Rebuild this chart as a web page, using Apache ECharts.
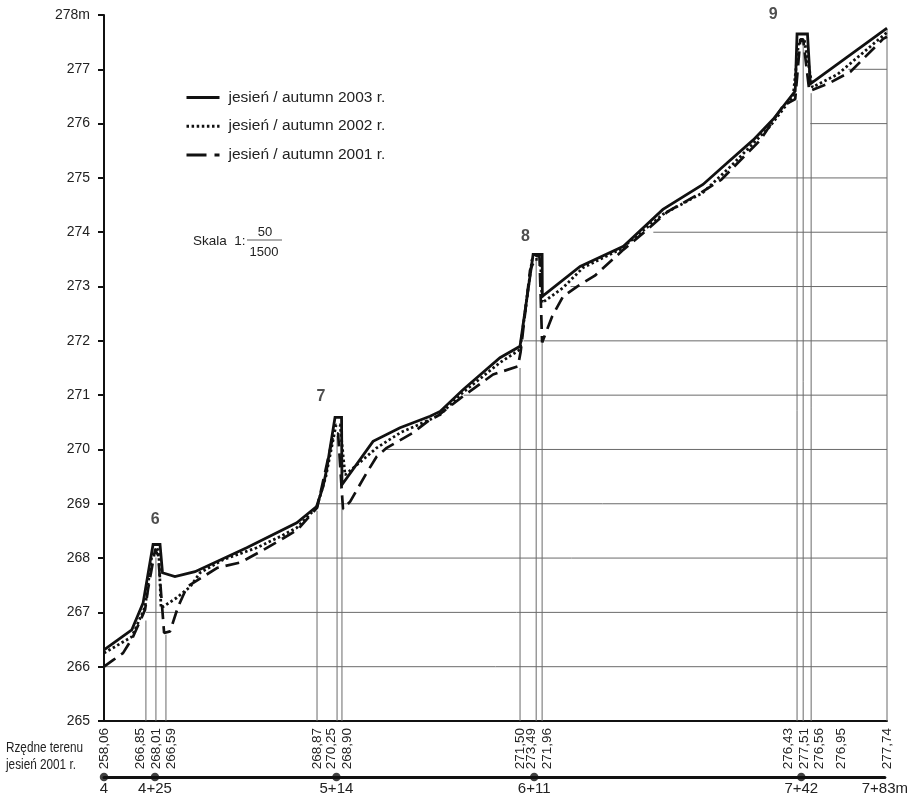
<!DOCTYPE html>
<html><head><meta charset="utf-8">
<script src="https://cdn.jsdelivr.net/npm/echarts@6/dist/echarts.min.js"></script>
<style>html,body{margin:0;padding:0;background:#fff}#c{width:911px;height:797px}</style>
</head><body><div id="c"></div>
<script>
// ---- profile data: [distance along the stream (m), elevation (m)] ----
const profile2003 = [
  [400,266.31],[413.6,266.68],[419.1,267.17],[424.0,268.25],[427.4,268.25],[428.6,267.73],
  [434.7,267.66],[444.5,267.75],[469.8,268.19],[494.3,268.65],[504.0,268.95],[507.1,269.31],
  [508.9,269.63],[513.0,270.59],[516.2,270.59],[516.4,269.35],[531.6,270.15],[544.8,270.40],
  [559.5,270.61],[564.4,270.70],[575.6,271.10],[593.7,271.69],[603.5,271.90],[609.9,273.59],
  [614.3,273.59],[614.4,272.82],[632.9,273.37],[654.1,273.74],[673.4,274.42],[693.0,274.88],
  [704.9,275.28],[717.6,275.70],[727.3,276.08],[738.1,276.60],[739.0,277.65],[744.1,277.65],
  [745.5,276.73],[783.0,277.76]
];
const profile2002 = [
  [400,266.25],[413.6,266.55],[420.1,267.10],[423.3,268.02],[425.8,268.20],[426.8,268.10],
  [427.9,267.08],[435.6,267.27],[442.1,267.47],[447.0,267.73],[458.2,267.97],[474.7,268.19],
  [486.4,268.40],[494.3,268.56],[504.0,268.93],[508.5,269.50],[513.5,270.45],[515.5,270.45],
  [517.9,269.53],[533.4,270.03],[545.0,270.31],[559.5,270.55],[564.4,270.64],[575.6,271.05],
  [593.7,271.60],[603.5,271.84],[609.4,273.50],[613.5,273.50],[614.3,272.70],[624.6,272.98],
  [634.4,273.35],[652.4,273.68],[673.4,274.33],[693.0,274.73],[706.2,275.20],[725.8,275.95],
  [737.1,276.51],[739.8,277.50],[742.5,277.55],[746.5,276.67],[758.9,276.91],[783.0,277.68]
];
const profile2001 = [
  [400,266.00],[404.4,266.12],[409.3,266.25],[414.2,266.55],[420.1,267.05],[421.5,267.42],
  [425.0,268.15],[426.5,268.05],[429.4,266.62],[432.3,266.65],[436.2,267.10],[440.6,267.47],
  [455.4,267.82],[466.8,267.92],[478.0,268.15],[487.9,268.37],[494.6,268.52],[504.3,268.93],
  [512.0,270.24],[514.5,270.30],[516.9,268.90],[520.4,269.04],[528.5,269.57],[533.4,269.87],
  [538.3,270.03],[551.2,270.31],[559.5,270.55],[562.9,270.61],[575.6,270.98],[590.3,271.38],
  [602.5,271.53],[603.8,271.80],[608.4,273.30],[611.5,273.56],[613.0,273.56],[614.3,271.97],
  [619.2,272.45],[624.6,272.82],[631.4,273.00],[640.1,273.20],[654.1,273.68],[665.8,274.05],
  [675.7,274.38],[690.3,274.69],[702.0,274.97],[721.1,275.70],[732.2,276.33],[738.1,276.45],
  [740.6,277.55],[742.0,277.55],[745.0,276.60],[753.9,276.73],[765.0,276.95],[781.1,277.56],
  [783.0,277.60]
];
const seriesNames = ['jesień / autumn 2003 r.', 'jesień / autumn 2002 r.', 'jesień / autumn 2001 r.'];

// ---- ground elevations 2001 ("Rzędne terenu") ----
const terrainStations = [400, 420.5, 425.4, 430.3, 504.2, 514.0, 516.4, 603.5, 611.4, 614.3, 739.0, 742.0, 745.9, 760.5, 783.0];
const terrainLabels = ['258,06','266,85','268,01','266,59','268,87','270,25','268,90','271,50','273,49','271,96','276,43','277,51','276,56','276,95','277,74'];
const terrainHasLine = [false, true, true, true, true, true, true, true, true, true, true, true, true, false, true];

// ---- horizontal reference lines: level and distance where they begin ----
const gridLevels = [266, 267, 268, 269, 270, 271, 272, 273, 274, 275, 276, 277];
const gridLevelStart = [400, 420.5, 474.2, 504.6, 537.7, 575.9, 605.2, 628.2, 668.7, 702.5, 745.5, 764.1];

// ---- chainage ----
const chainageValues = [400, 425, 514, 611, 742, 783];
const chainageLabels = ['4', '4+25', '5+14', '6+11', '7+42', '7+83m'];
const chainageDots = [400, 425, 514, 611, 742];

// ---- weirs ----
const weirNames = ['6', '7', '8', '9'];
const weirStations = [425, 514, 611, 742];
const weirCrest = [268.25, 270.59, 273.59, 277.65];

const X_MIN = 400, X_MAX = 783, Y_MIN = 265, Y_MAX = 278;
const FONT = '"Liberation Sans", Arial, sans-serif';
const GRID_COLOR = '#6a6a6a';

const chart = echarts.init(document.getElementById('c'), null, {renderer: 'canvas'});

const weirOffsets = [[0, -25], [-16, -21], [-10, -18], [-30, -19]];
const narrowText = (text, x, y) => ({type: 'text', x: x, y: y, scaleX: 0.84,
  style: {text: text, font: '14px ' + FONT, fill: '#222', textVerticalAlign: 'middle', verticalAlign: 'middle'}});

const option = {
  animation: false,
  backgroundColor: '#fff',
  grid: [
    {left: 104, right: 24, top: 15, bottom: 76},
    {left: 104, right: 24, top: 767, height: 10}
  ],
  xAxis: [
    {gridIndex: 0, type: 'value', min: X_MIN, max: X_MAX,
     axisLine: {onZero: false, lineStyle: {color: '#111', width: 2}},
     axisTick: {show: false}, axisLabel: {show: false}, splitLine: {show: false}},
    {gridIndex: 1, type: 'value', min: X_MIN, max: X_MAX, position: 'bottom',
     axisLine: {onZero: false, lineStyle: {color: '#111', width: 3}},
     axisTick: {show: false}, splitLine: {show: false},
     axisLabel: {customValues: chainageValues, showMinLabel: true, showMaxLabel: true,
       formatter: v => chainageLabels[chainageValues.indexOf(v)] || '',
       fontSize: 15, fontFamily: FONT, color: '#222', margin: 4}}
  ],
  yAxis: [
    {gridIndex: 0, type: 'value', min: Y_MIN, max: Y_MAX, interval: 1,
     axisLine: {show: true, onZero: false, lineStyle: {color: '#111', width: 2}},
     axisTick: {show: true, length: 6, lineStyle: {color: '#111', width: 2}},
     splitLine: {show: false},
     axisLabel: {fontSize: 14, fontFamily: FONT, color: '#222', margin: 14,
       formatter: v => v === Y_MAX ? v + 'm' : String(v)}},
    {gridIndex: 1, type: 'value', min: 0, max: 1, show: false}
  ],
  legend: {
    orient: 'vertical', left: 180, top: 84.5, itemWidth: 33, itemHeight: 16, itemGap: 12.7,
    itemStyle: {opacity: 0},
    lineStyle: {width: 3},
    textStyle: {fontSize: 15.5, fontFamily: FONT, color: '#222', padding: [0, 0, 0, 4]},
    data: [
      {name: seriesNames[0]},
      {name: seriesNames[1]},
      {name: seriesNames[2], lineStyle: {type: [20, 8], width: 3}}
    ]
  },
  graphic: [
    narrowText('Rzędne terenu', 6, 748),
    narrowText('jesień 2001 r.', 6, 765),
    {type: 'text', x: 193, y: 241, style: {text: 'Skala  1:', font: '13.5px ' + FONT, fill: '#222', textVerticalAlign: 'middle', verticalAlign: 'middle'}},
    {type: 'text', x: 265, y: 232, style: {text: '50', font: '13px ' + FONT, fill: '#222', textAlign: 'center', align: 'center', textVerticalAlign: 'middle', verticalAlign: 'middle'}},
    {type: 'line', shape: {x1: 247, y1: 240, x2: 282, y2: 240}, style: {stroke: '#333', lineWidth: 0.8}},
    {type: 'text', x: 264, y: 252, style: {text: '1500', font: '13px ' + FONT, fill: '#222', textAlign: 'center', align: 'center', textVerticalAlign: 'middle', verticalAlign: 'middle'}}
  ],
  series: [
    // horizontal reference lines
    {type: 'custom', xAxisIndex: 0, yAxisIndex: 0, z: 1, silent: true,
     data: gridLevels.map((l, i) => [gridLevelStart[i], l]),
     renderItem: (params, api) => {
       const a = api.coord([api.value(0), api.value(1)]);
       const b = api.coord([X_MAX, api.value(1)]);
       return {type: 'line', shape: {x1: a[0], y1: a[1], x2: b[0], y2: b[1]},
               style: {stroke: GRID_COLOR, lineWidth: 1}};
     }},
    // vertical station lines
    {type: 'custom', xAxisIndex: 0, yAxisIndex: 0, z: 1, silent: true,
     data: terrainStations.map((d, i) => [d, parseFloat(terrainLabels[i].replace(',', '.')), terrainHasLine[i] ? 1 : 0]),
     renderItem: (params, api) => {
       if (!api.value(2)) return null;
       const a = api.coord([api.value(0), Y_MIN]);
       const b = api.coord([api.value(0), api.value(1)]);
       return {type: 'line', shape: {x1: a[0], y1: a[1], x2: b[0], y2: b[1]},
               style: {stroke: GRID_COLOR, lineWidth: 1}};
     }},
    // rotated ground-elevation labels below the axis, spread apart where crowded
    {type: 'custom', xAxisIndex: 0, yAxisIndex: 0, z: 5, silent: true, clip: false,
     data: terrainStations.map(d => [d, Y_MIN]),
     renderItem: (params, api) => {
       const px = terrainStations.map(d => api.coord([d, Y_MIN])[0]);
       const gap = 15.6;
       const out = px.slice();
       let i = 0;
       while (i < px.length) {
         let j = i;
         while (j + 1 < px.length && px[j + 1] - px[j] < gap) j++;
         const n = j - i + 1;
         let mean = 0;
         for (let k = i; k <= j; k++) mean += px[k];
         mean /= n;
         for (let k = i; k <= j; k++) out[k] = mean + (k - i - (n - 1) / 2) * gap;
         i = j + 1;
       }
       const idx = params.dataIndex;
       const base = api.coord([terrainStations[idx], Y_MIN]);
       return {type: 'text', x: out[idx], y: base[1] + 7, rotation: Math.PI / 2,
               style: {text: terrainLabels[idx], font: '13.5px ' + FONT, fill: '#222',
                       align: 'right', verticalAlign: 'middle', textAlign: 'right', textVerticalAlign: 'middle'}};
     }},
    // profiles
    {name: seriesNames[2], type: 'line', xAxisIndex: 0, yAxisIndex: 0, z: 3, data: profile2001,
     symbol: 'none', showSymbol: false, color: '#111',
     lineStyle: {color: '#111', width: 2.7, type: [14, 7], cap: 'butt'}},
    {name: seriesNames[1], type: 'line', xAxisIndex: 0, yAxisIndex: 0, z: 3, data: profile2002,
     symbol: 'none', showSymbol: false, color: '#111',
     lineStyle: {color: '#111', width: 2.8, type: [2.5, 2.6], cap: 'butt'}},
    {name: seriesNames[0], type: 'line', xAxisIndex: 0, yAxisIndex: 0, z: 4, data: profile2003,
     symbol: 'none', showSymbol: false, color: '#111',
     lineStyle: {color: '#111', width: 2.8, type: 'solid', join: 'miter'}},
    // weir numbers
    {type: 'scatter', xAxisIndex: 0, yAxisIndex: 0, z: 5, silent: true, clip: false,
     symbolSize: 0,
     data: weirNames.map((n, i) => ({value: [weirStations[i], weirCrest[i]], name: n,
       label: {offset: weirOffsets[i]}})),
     label: {show: true, position: 'inside', formatter: p => p.name,
             fontSize: 16, fontWeight: 'bold', fontFamily: FONT, color: '#222'}},
    // chainage dots
    {type: 'scatter', xAxisIndex: 1, yAxisIndex: 1, z: 5, silent: true, clip: false,
     data: chainageDots.map(d => [d, 0]), symbolSize: 8.5,
     itemStyle: {color: '#111'}}
  ]
};
chart.setOption(option);
</script>
</body></html>
